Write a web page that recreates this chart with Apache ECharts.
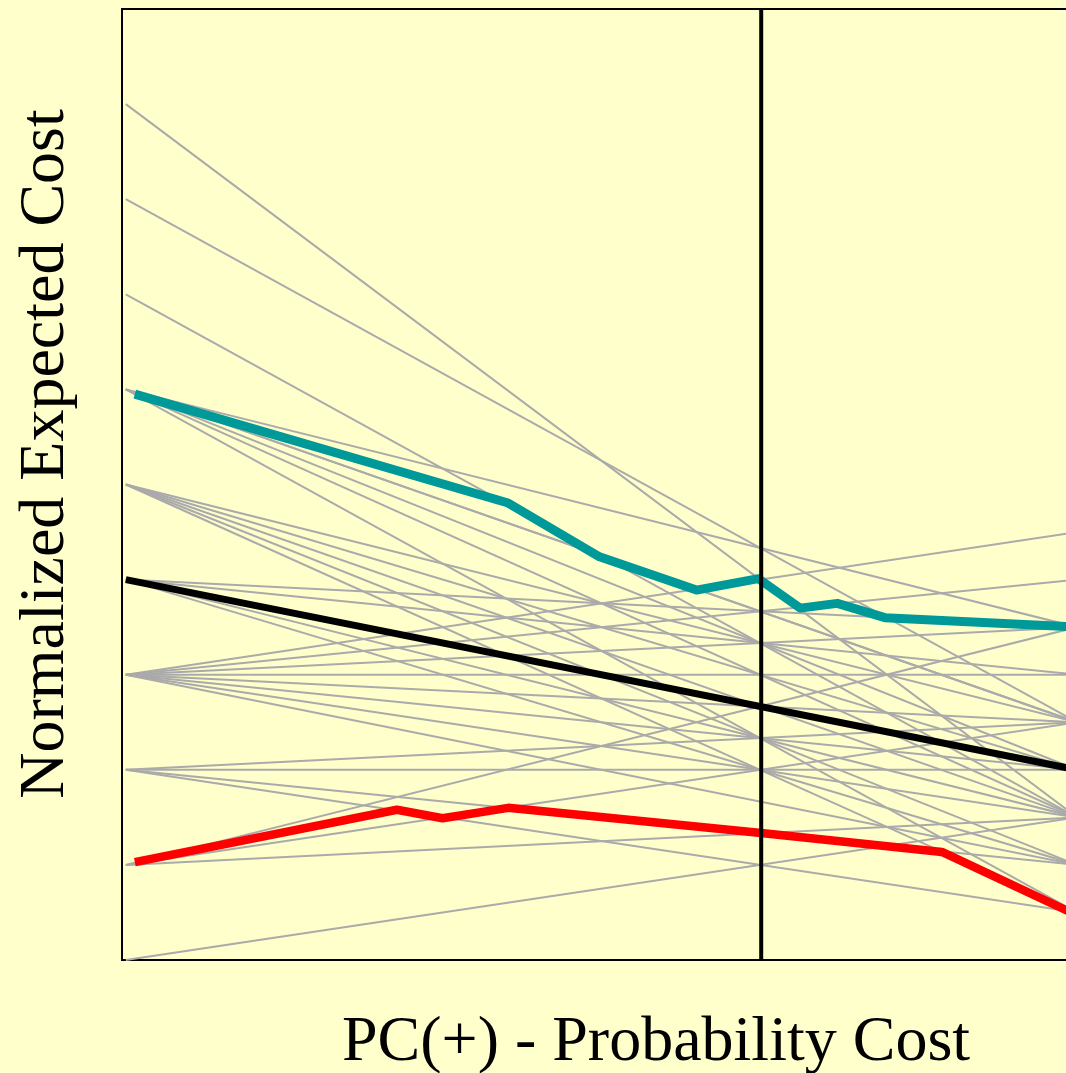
<!DOCTYPE html>
<html>
<head>
<meta charset="utf-8">
<script src="https://cdn.jsdelivr.net/npm/echarts@6/dist/echarts.min.js"></script>
<style>
  html, body { margin: 0; padding: 0; background: #FFFFCC; }
  #chart { width: 1066px; height: 1073px; }
</style>
</head>
<body>
<div id="chart"></div>
<script>
// Cost lines: each classifier is a straight line from its FP rate (PC(+)=0)
// to its FN rate (PC(+)=1).
const lineStartCost = [0.9, 0.8, 0.7,
  0.6, 0.6, 0.6, 0.6, 0.6, 0.6,
  0.5, 0.5, 0.5, 0.5, 0.5,
  0.4, 0.4, 0.4, 0.4,
  0.3, 0.3, 0.3, 0.3, 0.3, 0.3, 0.3, 0.3,
  0.2, 0.2, 0.2, 0.2,
  0.1, 0.1, 0.1,
  0.0];
const lineEndCost = [0.15, 0.25, 0.15,
  0.35, 0.25, 0.25, 0.2, 0.15, 0.05,
  0.25, 0.2, 0.15, 0.1, 0.05,
  0.35, 0.3, 0.15, 0.1,
  0.45, 0.4, 0.35, 0.3, 0.25, 0.2, 0.15, 0.1,
  0.25, 0.2, 0.1, 0.05,
  0.35, 0.25, 0.15,
  0.15];

// Upper bound curve
const upperX = [0.0095, 0.402, 0.498, 0.600, 0.665, 0.709, 0.748, 0.798, 1.0];
const upperY = [0.595, 0.4805, 0.424, 0.389, 0.401, 0.370, 0.375, 0.360, 0.350];

// Mean cost line
const meanX = [0, 1];
const meanY = [0.4, 0.2];

// Lower bound curve
const lowerX = [0.0095, 0.285, 0.333, 0.402, 0.668, 0.858, 1.0];
const lowerY = [0.103, 0.158, 0.149, 0.160, 0.1335, 0.1136, 0.047];

// Operating point
const operatingPC = 0.668;

const pairs = (xs, ys) => xs.map((x, i) => [x, ys[i]]);

const series = [];
lineStartCost.forEach((l, i) => {
  series.push({
    type: 'line', silent: true, showSymbol: false, animation: false,
    data: [[0, l], [1, lineEndCost[i]]],
    lineStyle: { color: '#AAAAAA', width: 2 }
  });
});
series.push({
  type: 'line', silent: true, showSymbol: false, animation: false,
  data: pairs(upperX, upperY),
  lineStyle: { color: '#009999', width: 9, join: 'round', cap: 'butt' }
});
series.push({
  type: 'line', silent: true, showSymbol: false, animation: false,
  data: pairs(lowerX, lowerY),
  lineStyle: { color: '#FF0000', width: 8.5, join: 'round', cap: 'butt' }
});
series.push({
  type: 'line', silent: true, showSymbol: false, animation: false,
  data: pairs(meanX, meanY),
  lineStyle: { color: '#000000', width: 7, cap: 'butt' }
});
series.push({
  type: 'line', silent: true, showSymbol: false, animation: false,
  data: [[operatingPC, 0], [operatingPC, 1]],
  lineStyle: { color: '#000000', width: 4, cap: 'butt' }
});

const chart = echarts.init(document.getElementById('chart'), null, { renderer: 'canvas' });
chart.setOption({
  backgroundColor: '#FFFFCC',
  animation: false,
  grid: {
    left: 122, top: 9, width: 955, height: 951,
    outerBoundsMode: 'none', containLabel: false,
    show: true, borderColor: '#000000', borderWidth: 2, backgroundColor: 'transparent'
  },
  xAxis: {
    type: 'value', min: -0.004, max: 1.0,
    axisLine: { show: false }, axisTick: { show: false },
    axisLabel: { show: false }, splitLine: { show: false }
  },
  yAxis: {
    type: 'value', min: 0, max: 1,
    axisLine: { show: false }, axisTick: { show: false },
    axisLabel: { show: false }, splitLine: { show: false }
  },
  graphic: [
    {
      type: 'text', x: 656, y: 1043,
      style: {
        text: 'PC(+) - Probability Cost',
        font: '64px "Liberation Serif", "Times New Roman", serif',
        fill: '#000000', align: 'center', verticalAlign: 'middle'
      }
    },
    {
      type: 'text', x: 46, y: 454, rotation: Math.PI / 2,
      style: {
        text: 'Normalized Expected Cost',
        font: '64px "Liberation Serif", "Times New Roman", serif',
        fill: '#000000', align: 'center', verticalAlign: 'middle'
      }
    }
  ],
  series: series
});
</script>
</body>
</html>
